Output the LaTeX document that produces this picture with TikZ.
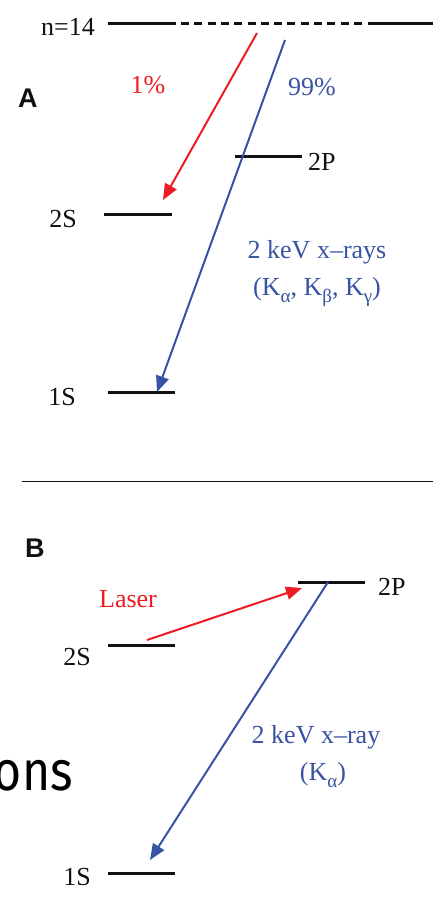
\documentclass[tikz,border=0pt]{standalone}
\usepackage{fontspec}
\setmainfont{Liberation Serif}
\newfontfamily\panelfont{Liberation Sans}
\newfontfamily\slidefont{Fira Sans}
\usetikzlibrary{arrows.meta}
\definecolor{xrayblue}{HTML}{3953A4}
\definecolor{laserred}{HTML}{ED1C24}
\definecolor{levelblack}{HTML}{111111}
% K line with a large, low Greek subscript
\newcommand{\kline}[1]{K\raisebox{-0.28em}{\fontsize{19}{19}\selectfont #1}}

\begin{document}
\begin{tikzpicture}[
    x=1pt, y=-1pt,
    >={Triangle[length=16pt, width=13pt]},
    level/.style={levelblack, line width=3pt},
    lvlabel/.style={font=\fontsize{26}{26}\selectfont, text=levelblack, inner sep=0pt},
    colabel/.style={font=\fontsize{26}{26}\selectfont, inner sep=0pt},
    panel/.style={font=\panelfont\bfseries\fontsize{27}{27}\selectfont, text=levelblack, inner sep=0pt},
    trans/.style={line width=2pt, ->}
]
\useasboundingbox (0,0) rectangle (433,897);
\fill[white] (0,0) rectangle (433,897);

% ---------------- Panel A ----------------
\node[panel, anchor=base west] (panA) at (18,107) {A};

% n=14 level, solid - dashed - solid
\coordinate (n14l) at (108,23);
\coordinate (n14dl) at (181,23);
\coordinate (n14dr) at (363,23);
\coordinate (n14r) at (433,23);
\draw[level] (n14l) -- (176,23);
\draw[level, dash pattern=on 8pt off 5.3pt] (n14dl) -- (n14dr);
\draw[level] (368,23) -- (n14r);
\node[lvlabel, anchor=base east] (lbn14) at (95,35) {n=14};

% 2P, 2S, 1S levels
\draw[level] (235,156) coordinate (p2a) -- (302,156);
\node[lvlabel, anchor=base west] (lbp2a) at (308,170) {2P};
\draw[level] (104,214) coordinate (s2a) -- (172,214);
\node[lvlabel, anchor=base east] (lbs2a) at (77,227) {2S};
\draw[level] (108,392) coordinate (s1a) -- (175,392);
\node[lvlabel, anchor=base east] (lbs1a) at (76,405) {1S};

% transitions
\coordinate (redfrom) at (257,33);
\coordinate (redto) at (163,200);
\coordinate (bluefrom) at (285,40);
\coordinate (blueto) at (157,392);
\draw[trans, laserred] (redfrom) -- (redto);
\draw[trans, xrayblue] (bluefrom) -- (blueto);

\node[colabel, text=laserred, anchor=base] (pcone) at (148,93) {1\%};
\node[colabel, text=xrayblue, anchor=base] (pcnn) at (312,95) {99\%};
\node[colabel, text=xrayblue, anchor=base] (xraysa) at (317,258) {2 keV x--rays};
\node[colabel, text=xrayblue, anchor=base] (linesa) at (317,295)
    {(\kline{α}, \kline{β}, \kline{γ})};

% separator
\draw[levelblack, line width=1pt] (22,481) -- (433,481);

% ---------------- Panel B ----------------
\node[panel, anchor=base west] (panB) at (25,557) {B};

\draw[level] (298,582) coordinate (p2b) -- (365,582);
\node[lvlabel, anchor=base west] (lbp2b) at (378,595) {2P};
\draw[level] (108,645) coordinate (s2b) -- (175,645);
\node[lvlabel, anchor=base east] (lbs2b) at (91,665) {2S};
\draw[level] (108,873) coordinate (s1b) -- (175,873);
\node[lvlabel, anchor=base east] (lbs1b) at (91,885) {1S};

\coordinate (laserfrom) at (147,640);
\coordinate (laserto) at (302,588);
\coordinate (kafrom) at (328,582);
\coordinate (kato) at (150,860);
\draw[trans, laserred] (laserfrom) -- (laserto);
\draw[trans, xrayblue] (kafrom) -- (kato);

\node[colabel, text=laserred, anchor=base] (laser) at (128,607) {Laser};
\node[colabel, text=xrayblue, anchor=base] (xrayb) at (316,743) {2 keV x--ray};
\node[colabel, text=xrayblue, anchor=base] (lineb) at (323,780) {(\kline{α})};

% leftover slide text, cut at the edge
\node[font=\slidefont\fontsize{56}{56}\selectfont, xscale=0.86, anchor=base east,
      inner sep=0pt] (ons) at (73,790) {ons};

\end{tikzpicture}
\end{document}
